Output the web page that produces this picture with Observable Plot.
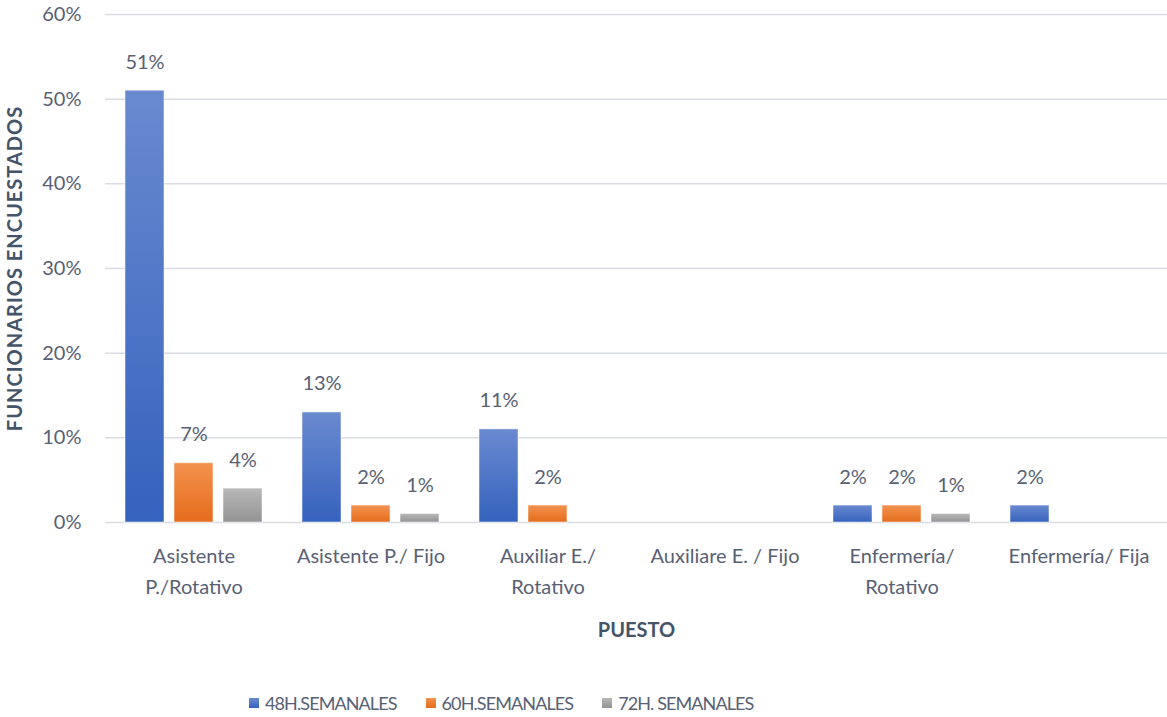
<!DOCTYPE html>
<html>
<head>
<meta charset="utf-8">
<script src="https://cdn.jsdelivr.net/npm/d3@7"></script>
<script src="https://cdn.jsdelivr.net/npm/@observablehq/plot@0.6"></script>
<style>
  body { margin: 0; background: #fff; font-family: Lato, "Open Sans", sans-serif; }
  #chart svg { display: block; }
  #chart [aria-label="y-axis label"] text, #chart [aria-label="fx-axis label"] text { font-weight: bold; fill: #44546a; }
  #chart [aria-label="y-axis label"] text { letter-spacing: 1px; }
  .legend { display: flex; justify-content: flex-start; padding-left: 249px; gap: 29px; margin-top: 42px; font-size: 18px; letter-spacing: -0.9px; color: #586174; }
  .legend span.item { display: flex; align-items: center; }
  .legend span.sw { width: 10px; height: 10px; margin-right: 6px; display: inline-block; }
</style>
</head>
<body>
<div id="chart"></div>
<div class="legend" id="legend"></div>
<script>
const categories = ["Asistente P./Rotativo", "Asistente P./ Fijo", "Auxiliar E./ Rotativo", "Auxiliare E. / Fijo", "Enfermería/ Rotativo", "Enfermería/ Fija"];
const categoryLabels = ["Asistente\nP./Rotativo", "Asistente P./ Fijo", "Auxiliar E./\nRotativo", "Auxiliare E. / Fijo", "Enfermería/\nRotativo", "Enfermería/ Fija"];
const series = ["48H.SEMANALES", "60H.SEMANALES", "72H. SEMANALES"];
const h48 = [51, 13, 11, null, 2, 2];
const h60 = [7, 2, 2, null, 2, null];
const h72 = [4, 1, null, null, 1, null];
const yTicks = [0, 10, 20, 30, 40, 50, 60];

const colors = ["#4472c4", "#ed7d31", "#a5a5a5"];
const gradTop = ["#6a8ad0", "#f3914f", "#b8b8b8"];
const gradBot = ["#3562bd", "#e56d1c", "#939393"];

const valuesBySeries = [h48, h60, h72];
const rows = [];
series.forEach((s, si) => {
  categories.forEach((c, ci) => {
    const v = valuesBySeries[si][ci];
    if (v != null) rows.push({cat: c, series: s, si, value: v});
  });
});
const labelOf = new Map(categories.map((c, i) => [c, categoryLabels[i]]));
const gridRows = categories.flatMap(c => yTicks.map(t => ({cat: c, t})));

const barMarks = series.map((s, si) =>
  Plot.barY(rows.filter(d => d.si === si), {
    fx: "cat", x: "series", y: "value",
    fill: `url(#grad${si})`, stroke: "#ffffff", strokeOpacity: 0.5, strokeWidth: 1
  })
);

const chart = Plot.plot({
  width: 1167,
  height: 650,
  marginTop: 14,
  marginBottom: 128,
  marginLeft: 104,
  marginRight: 0,
  style: {fontFamily: "Lato, 'Open Sans', sans-serif", fontSize: "20px", color: "#586174", background: "#fff"},
  fx: {domain: categories, padding: 0},
  x: {domain: series, paddingInner: 0.2, paddingOuter: 0.4, axis: null},
  y: {domain: [0, 60]},
  marks: [
    Plot.ruleY(gridRows, {fx: "cat", y: "t", stroke: "#d9dce2", strokeWidth: 1.5}),
    ...barMarks,
    Plot.text(rows, {
      fx: "cat", x: "series", y: "value",
      text: d => d.value + "%", lineAnchor: "bottom", dy: -22,
      fontSize: 20, fill: "#586174"
    }),
    Plot.axisY(yTicks, {
      tickSize: 0, tickPadding: 24, tickFormat: d => d + "%",
      fontSize: 20, fill: "#586174",
      label: "FUNCIONARIOS ENCUESTADOS", labelAnchor: "center", labelArrow: "none", labelOffset: 98
    }),
    Plot.axisFx({
      anchor: "bottom", tickSize: 0, tickPadding: 18, tickFormat: d => labelOf.get(d),
      fontSize: 20, lineHeight: 1.55, fill: "#586174",
      label: "PUESTO", labelAnchor: "center", labelArrow: "none", labelOffset: 114
    })
  ]
});

const ns = "http://www.w3.org/2000/svg";
const defs = document.createElementNS(ns, "defs");
colors.forEach((c, i) => {
  const g = document.createElementNS(ns, "linearGradient");
  g.setAttribute("id", "grad" + i);
  g.setAttribute("x1", "0"); g.setAttribute("y1", "0");
  g.setAttribute("x2", "0"); g.setAttribute("y2", "1");
  const s1 = document.createElementNS(ns, "stop");
  s1.setAttribute("offset", "0"); s1.setAttribute("stop-color", gradTop[i]);
  const s2 = document.createElementNS(ns, "stop");
  s2.setAttribute("offset", "1"); s2.setAttribute("stop-color", gradBot[i]);
  g.appendChild(s1); g.appendChild(s2);
  defs.appendChild(g);
});
chart.insertBefore(defs, chart.firstChild);
document.getElementById("chart").appendChild(chart);

const legend = document.getElementById("legend");
series.forEach((s, i) => {
  const item = document.createElement("span");
  item.className = "item";
  item.innerHTML = `<span class="sw" style="background: linear-gradient(${gradTop[i]}, ${gradBot[i]})"></span>${s}`;
  legend.appendChild(item);
});
</script>
</body>
</html>
